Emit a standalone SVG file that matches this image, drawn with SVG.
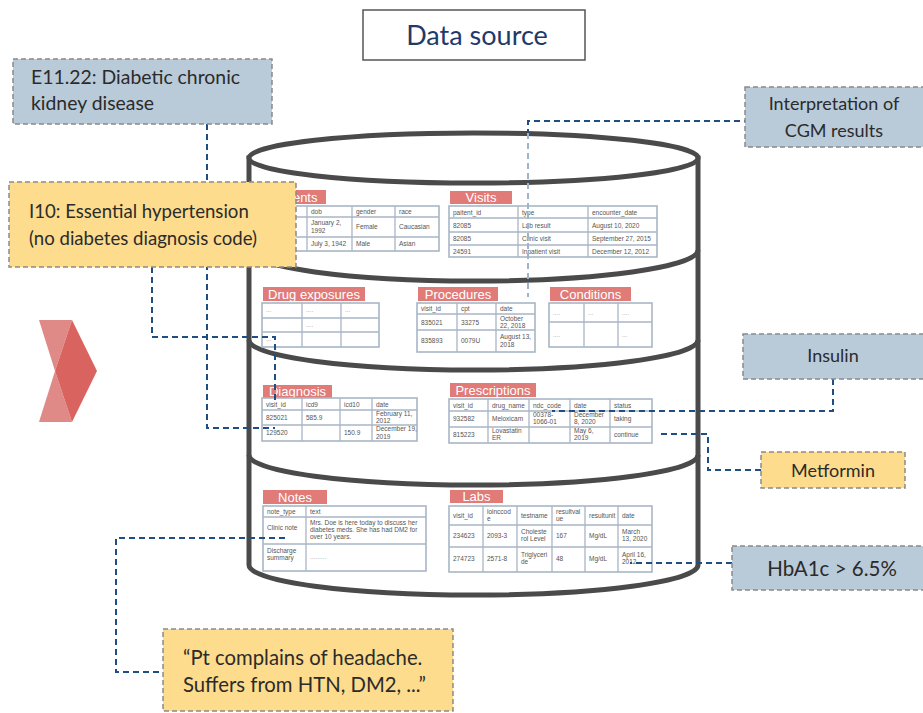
<svg xmlns="http://www.w3.org/2000/svg" width="923" height="713" viewBox="0 0 923 713">
<style>
.cyl{fill:#fff;stroke:#4a4a4a;stroke-width:5}
.div{fill:none;stroke:#4a4a4a;stroke-width:5}
.hd{fill:#e07b78}
.ht{font-family:"Liberation Sans",Arial,sans-serif;font-size:13px;fill:#fff;text-anchor:middle}
.tb{fill:#fff;stroke:#a9b6c6;stroke-width:1.6}
.gl{stroke:#a9b6c6;stroke-width:1.3;fill:none}
.tt{font-family:"Liberation Sans",Arial,sans-serif;font-size:6.5px;fill:#555}
.td{font-family:"Liberation Sans",Arial,sans-serif;font-size:6.5px;fill:#aaa}
.con{fill:none;stroke:#1f4e85;stroke-width:2;stroke-dasharray:6 4}
.conl{fill:none;stroke:#9fb4cb;stroke-width:2;stroke-dasharray:6 4}
.bb{fill:#b9cad9;stroke:#8a8a8a;stroke-width:1.5;stroke-dasharray:5 3}
.yb{fill:#fddc8d;stroke:#8a8a8a;stroke-width:1.5;stroke-dasharray:5 3}
.lb{font-family:Lato,"Noto Sans",sans-serif;font-size:18px;fill:#2b2b2b}
.lbc{font-family:Lato,"Noto Sans",sans-serif;font-size:18px;fill:#2b2b2b;text-anchor:middle}
</style>

<!-- Title -->
<g id="title">
<rect x="363" y="10" width="222" height="50" fill="#fff" stroke="#555" stroke-width="1.5"/>
<text x="477" y="45" style="font-family:Lato,'Noto Sans',sans-serif;font-size:27px;fill:#1e3a6a;text-anchor:middle">Data source</text>
</g>

<!-- Chevron -->
<g id="chevron">
<polygon points="39,320 72,320 55,371" fill="#e08a87"/>
<polygon points="55,371 72,422 39,422" fill="#e08a87"/>
<polygon points="72,320 97,371 72,422 55,371" fill="#d9645f"/>
</g>

<!-- Cylinder -->
<g id="database">
<path class="cyl" d="M249,158 L249,565 A224.5,30 0 0 0 698,565 L698,158 Z"/>
<ellipse class="cyl" cx="473.5" cy="158" rx="224.5" ry="25"/>
<path class="div" d="M249,250 A224.5,31 0 0 0 698,250"/>
<path class="div" d="M249,340 A224.5,30 0 0 0 698,340"/>
<path class="div" d="M249,455 A224.5,30 0 0 0 698,455"/>
</g>

<!-- Patients -->
<g id="patients">
<rect class="hd" x="262" y="190" width="64" height="14"/>
<text class="ht" x="294" y="202">Patients</text>
<rect class="tb" x="262" y="206" width="177" height="45"/>
<path class="gl" d="M307,206V251M352,206V251M395,206V251M262,217H439M262,237H439"/>
<text class="tt" x="311" y="214">dob</text><text class="tt" x="356" y="214">gender</text><text class="tt" x="399" y="214">race</text>
<text class="tt" x="311" y="225">January 2,</text><text class="tt" x="311" y="233">1992</text><text class="tt" x="356" y="229">Female</text><text class="tt" x="399" y="229">Caucasian</text>
<text class="tt" x="311" y="246">July 3, 1942</text><text class="tt" x="356" y="246">Male</text><text class="tt" x="399" y="246">Asian</text>
</g>

<!-- Visits -->
<g id="visits">
<rect class="hd" x="450" y="191" width="62" height="13"/>
<text class="ht" x="481" y="202">Visits</text>
<rect class="tb" x="449" y="206" width="208" height="51"/>
<path class="gl" d="M518,206V257M588,206V257M449,218H657M449,232H657M449,245H657"/>
<text class="tt" x="453" y="214.5">paitent_id</text><text class="tt" x="522" y="214.5">type</text><text class="tt" x="592" y="214.5">encounter_date</text>
<text class="tt" x="453" y="227.5">82085</text><text class="tt" x="522" y="227.5">Lab result</text><text class="tt" x="592" y="227.5">August 10, 2020</text>
<text class="tt" x="453" y="241">82085</text><text class="tt" x="522" y="241">Clinic visit</text><text class="tt" x="592" y="241">September 27, 2015</text>
<text class="tt" x="453" y="254">24591</text><text class="tt" x="522" y="254">Inpatient visit</text><text class="tt" x="592" y="254">December 12, 2012</text>
</g>

<!-- Drug exposures -->
<g id="drug-exposures">
<rect class="hd" x="263" y="287" width="102" height="14"/>
<text class="ht" x="314" y="299">Drug exposures</text>
<rect class="tb" x="262" y="303" width="117" height="44"/>
<path class="gl" d="M302,303V347M341,303V347M262,318H379M262,332H379"/>
<text class="td" x="266" y="312">...</text><text class="td" x="306" y="312">....</text><text class="td" x="345" y="312">...</text>
<text class="td" x="306" y="327">....</text>
<text class="td" x="266" y="341">...</text>
</g>

<!-- Procedures -->
<g id="procedures">
<rect class="hd" x="418" y="287" width="80" height="14"/>
<text class="ht" x="458" y="299">Procedures</text>
<rect class="tb" x="417" y="303" width="118" height="49"/>
<path class="gl" d="M457,303V352M496,303V352M417,314H535M417,330H535"/>
<text class="tt" x="421" y="311">visit_id</text><text class="tt" x="461" y="311">cpt</text><text class="tt" x="500" y="311">date</text>
<text class="tt" x="421" y="325">835021</text><text class="tt" x="461" y="325">33275</text><text class="tt" x="500" y="321">October</text><text class="tt" x="500" y="328">22, 2018</text>
<text class="tt" x="421" y="343">835893</text><text class="tt" x="461" y="343">0079U</text><text class="tt" x="500" y="339">August 13,</text><text class="tt" x="500" y="347">2018</text>
</g>

<!-- Conditions -->
<g id="conditions">
<rect class="hd" x="550" y="287" width="81" height="14"/>
<text class="ht" x="590.5" y="299">Conditions</text>
<rect class="tb" x="549" y="303" width="103" height="44"/>
<path class="gl" d="M584,303V347M618,303V347M549,322H652"/>
<text class="td" x="553" y="315">....</text><text class="td" x="588" y="315">...</text><text class="td" x="622" y="315">....</text>
<text class="td" x="553" y="337">....</text><text class="td" x="622" y="337">...</text>
</g>

<!-- Diagnosis -->
<g id="diagnosis">
<rect class="hd" x="263" y="385" width="69" height="13"/>
<text class="ht" x="297.5" y="396">Diagnosis</text>
<rect class="tb" x="262" y="398" width="155" height="43"/>
<path class="gl" d="M302,398V441M340,398V441M372,398V441M262,410H417M262,425H417"/>
<text class="tt" x="266" y="406.5">visit_id</text><text class="tt" x="306" y="406.5">icd9</text><text class="tt" x="344" y="406.5">icd10</text><text class="tt" x="376" y="406.5">date</text>
<text class="tt" x="266" y="420">825021</text><text class="tt" x="306" y="420">585.9</text><text class="tt" x="376" y="416">February 11,</text><text class="tt" x="376" y="423">2012</text>
<text class="tt" x="266" y="435">129520</text><text class="tt" x="344" y="435">150.9</text><text class="tt" x="376" y="431">December 19,</text><text class="tt" x="376" y="438.5">2019</text>
</g>

<!-- Prescriptions -->
<g id="prescriptions">
<rect class="hd" x="450" y="383" width="86" height="14"/>
<text class="ht" x="493" y="395">Prescriptions</text>
<rect class="tb" x="449" y="399" width="203" height="44"/>
<path class="gl" d="M488,399V443M529,399V443M570,399V443M610,399V443M449,411H652M449,427H652"/>
<text class="tt" x="453" y="407.5">visit_id</text><text class="tt" x="492" y="407.5">drug_name</text><text class="tt" x="533" y="407.5">ndc_code</text><text class="tt" x="574" y="407.5">date</text><text class="tt" x="614" y="407.5">status</text>
<text class="tt" x="453" y="421">932582</text><text class="tt" x="492" y="421">Meloxicam</text><text class="tt" x="533" y="417">00378-</text><text class="tt" x="533" y="424">1066-01</text><text class="tt" x="574" y="417">December</text><text class="tt" x="574" y="424">8, 2020</text><text class="tt" x="614" y="421">taking</text>
<text class="tt" x="453" y="437">815223</text><text class="tt" x="492" y="433">Lovastatin</text><text class="tt" x="492" y="440">ER</text><text class="tt" x="574" y="433">May 6,</text><text class="tt" x="574" y="440">2019</text><text class="tt" x="614" y="437">continue</text>
</g>

<!-- Notes -->
<g id="notes">
<rect class="hd" x="263" y="490" width="64" height="14"/>
<text class="ht" x="295" y="502">Notes</text>
<rect class="tb" x="263" y="506" width="163" height="65"/>
<path class="gl" d="M306,506V571M263,517H426M263,544H426"/>
<text class="tt" x="267" y="514">note_type</text><text class="tt" x="310" y="514">text</text>
<text class="tt" x="267" y="530">Clinic note</text>
<text class="tt" x="310" y="525">Mrs. Doe is here today to discuss her</text>
<text class="tt" x="310" y="532">diabetes meds. She has had DM2 for</text>
<text class="tt" x="310" y="539">over 10 years.</text>
<text class="tt" x="267" y="553">Discharge</text><text class="tt" x="267" y="560">summary</text>
<text class="td" x="310" y="559">.........</text>
</g>

<!-- Labs -->
<g id="labs">
<rect class="hd" x="450" y="490" width="53" height="13"/>
<text class="ht" x="476.5" y="501">Labs</text>
<rect class="tb" x="449" y="506" width="203" height="66"/>
<path class="gl" d="M483,506V572M517,506V572M552,506V572M585,506V572M618,506V572M449,525H652M449,547H652"/>
<text class="tt" x="453" y="518">visit_id</text><text class="tt" x="487" y="514">loinccod</text><text class="tt" x="487" y="521">e</text><text class="tt" x="521" y="518">testname</text><text class="tt" x="556" y="514">resultval</text><text class="tt" x="556" y="521">ue</text><text class="tt" x="589" y="518">resultunit</text><text class="tt" x="622" y="518">date</text>
<text class="tt" x="453" y="538">234623</text><text class="tt" x="487" y="538">2093-3</text><text class="tt" x="521" y="534">Choleste</text><text class="tt" x="521" y="541">rol Level</text><text class="tt" x="556" y="538">167</text><text class="tt" x="589" y="538">Mg/dL</text><text class="tt" x="622" y="534">March</text><text class="tt" x="622" y="541">13, 2020</text>
<text class="tt" x="453" y="561">274723</text><text class="tt" x="487" y="561">2571-8</text><text class="tt" x="521" y="557">Triglyceri</text><text class="tt" x="521" y="564">de</text><text class="tt" x="556" y="561">48</text><text class="tt" x="589" y="561">Mg/dL</text><text class="tt" x="622" y="557">April 16,</text><text class="tt" x="622" y="564">2012</text>
</g>

<!-- Connectors -->
<g id="connectors">
<path class="con" d="M750,121H528V133"/>
<path class="conl" d="M528,133V297"/>
<path class="con" d="M207,124V428H275"/>
<path class="con" d="M152,267V337H275V403"/>
<path class="con" d="M833,379V411H552"/>
<path class="con" d="M761,470H708V434H657"/>
<path class="con" d="M732,563H630"/>
<path class="con" d="M285,538H116V672H163"/>
</g>

<!-- Annotation nodes -->
<g id="e11-22">
<rect class="bb" x="13" y="59" width="259" height="65"/>
<text class="lb" x="31" y="84" style="font-size:19.4px">E11.22: Diabetic chronic</text>
<text class="lb" x="31" y="110" style="font-size:19.4px">kidney disease</text>
</g>
<g id="interpretation-cgm">
<rect class="bb" x="745" y="87" width="182" height="60"/>
<text class="lbc" x="834" y="110">Interpretation of</text>
<text class="lbc" x="834" y="137">CGM results</text>
</g>
<g id="i10">
<rect class="yb" x="9" y="182" width="287" height="85"/>
<text class="lb" x="29" y="218" style="font-size:18.6px">I10: Essential hypertension</text>
<text class="lb" x="29" y="245" style="font-size:18.6px">(no diabetes diagnosis code)</text>
</g>
<g id="insulin">
<rect class="bb" x="743" y="334" width="184" height="45"/>
<text class="lbc" x="833" y="362">Insulin</text>
</g>
<g id="metformin">
<rect class="yb" x="761" y="452" width="144" height="36"/>
<text class="lbc" x="833" y="477">Metformin</text>
</g>
<g id="hba1c">
<rect class="bb" x="732" y="546" width="195" height="44"/>
<text class="lbc" x="832" y="576" style="font-size:20.5px">HbA1c &gt; 6.5%</text>
</g>
<g id="pt-note">
<rect class="yb" x="163" y="629" width="290" height="82"/>
<text class="lb" x="183" y="665" style="font-size:20.3px">“Pt complains of headache.</text>
<text class="lb" x="183" y="692" style="font-size:20.3px">Suffers from HTN, DM2, ...”</text>
</g>
</svg>
